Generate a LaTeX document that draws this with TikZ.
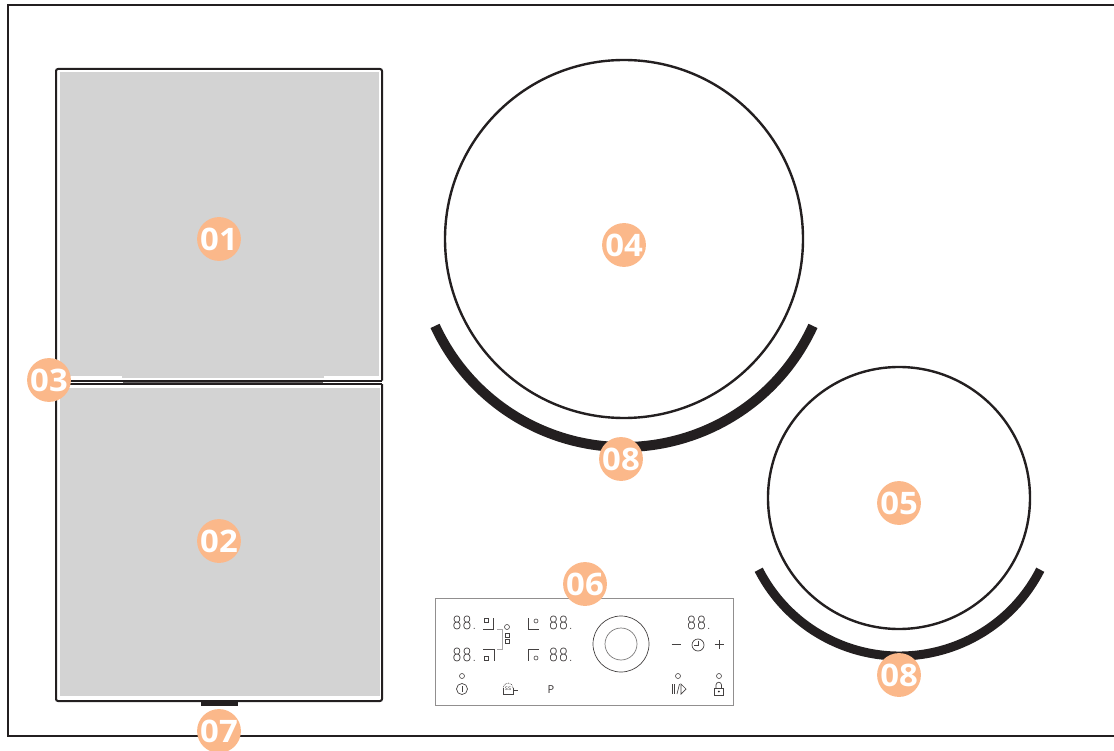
\documentclass[tikz,border=0pt]{standalone}
\usepackage{fontspec}
\setmainfont{Open Sans}
\newfontfamily\ledfont{DejaVu Sans ExtraLight}
\usepackage{tikz}
\definecolor{badgeorange}{HTML}{FBB88A}
\definecolor{zonegray}{HTML}{D3D3D3}
\definecolor{inkblack}{HTML}{231F20}
\newcommand{\ledtext}{\scalebox{.86}[1]{\ledfont 88.}}
\newcommand{\badgetext}[1]{\scalebox{1.06}[1]{\bfseries #1}}
\tikzset{
	badge/.style={circle, fill=badgeorange, text=white, minimum size=43pt, inner sep=0pt, font=\fontsize{31}{31}\selectfont},
	outline/.style={draw=inkblack, line width=2pt},
	heavyarc/.style={draw=inkblack, line width=10pt},
	readout/.style={inner sep=0pt, text=inkblack, font=\fontsize{18}{18}\selectfont},
	thinink/.style={draw=inkblack!85, line width=0.7pt},
	led/.style={draw=inkblack!85, line width=0.6pt, circle, minimum size=5pt, inner sep=0pt},
}

\begin{document}
\begin{tikzpicture}[x=1pt, y=-1pt]
	\useasboundingbox (0, 0) rectangle (1114, 751);
	\draw[outline] (1114, 5) -- (7.5, 5) -- (7.5, 736) -- (1114, 736);

	\fill[zonegray] (60, 72) rectangle (379, 378);
	\fill[zonegray] (60, 388) rectangle (380, 696);
	\draw[outline, rounded corners=2pt] (56, 381) -- (56, 69) -- (382, 69) -- (382, 380.5);
	\draw[outline, rounded corners=2pt] (56, 384) -- (56, 701) -- (382, 701) -- (382, 384);
	\fill[white] (70, 376) rectangle (122, 388);
	\fill[white] (324, 376) rectangle (379, 388);
	\fill[inkblack!70] (123, 381) rectangle (323, 384);
	\draw[outline, line width=1.6pt] (56, 380.7) -- (382, 380.7);
	\draw[outline, line width=1.6pt] (56, 384) -- (382, 384);
	\fill[inkblack] (201, 701) rectangle (238, 706);

	\draw[outline, line width=2.4pt] (624, 239) circle[radius=179];
	\draw[outline, line width=2.4pt] (899, 498) circle[radius=131];
	\draw[heavyarc] (624, 239) ++(24.7:208) arc[start angle=24.7, end angle=155.3, radius=208];
	\draw[heavyarc, line width=9pt] (899.5, 498) ++(27:158) arc[start angle=27, end angle=153, radius=158];

	\draw[draw=inkblack!50, line width=0.8pt] (435.5, 598.5) rectangle (733.5, 705.5);
	\draw[thinink] (621, 644) circle[radius=28];
	\draw[draw=inkblack!60, line width=0.7pt] (621, 644) circle[radius=16];

	\node[readout] (readoutA) at (464.5, 623) {\ledtext};
	\node[readout] (readoutB) at (464.5, 655) {\ledtext};
	\node[readout] (readoutC) at (561, 623) {\ledtext};
	\node[readout] (readoutD) at (561, 655) {\ledtext};
	\node[readout] (readoutE) at (699, 623) {\ledtext};

	\draw[thinink] (483, 629) -- (493, 629) -- (493, 618);
	\draw[thinink] (483, 649) -- (494, 649) -- (494, 661);
	\draw[thinink] (528, 618) -- (528, 629) -- (539, 629);
	\draw[thinink] (539, 649) -- (528, 649) -- (528, 661);
	\draw[thinink, line width=0.6pt] (484, 618.5) rectangle (488, 622.5);
	\draw[thinink, line width=0.6pt] (484, 656) rectangle (488, 660);
	\node[led, minimum size=4pt] (spotA) at (536, 621) {};
	\node[led, minimum size=4pt] (spotB) at (536, 658) {};
	\node[led] (ledBridge) at (507, 627) {};
	\draw[thinink, line width=0.6pt] (505, 633) rectangle (509, 637);
	\draw[thinink, line width=0.6pt] (505, 639) rectangle (509, 643);
	\draw[draw=inkblack!40, line width=0.6pt] (497, 629) -- (502, 629) -- (502, 649) -- (497, 649);

	\node[led] (ledPower) at (462, 676) {};
	\node[led, minimum size=11pt, line width=0.7pt] (power) at (462, 689) {};
	\draw[thinink] (462, 686) -- (462, 692);

	\draw[thinink, line width=0.6pt] (503, 688) -- (503, 694) -- (513, 694) -- (513, 688);
	\draw[thinink, line width=0.7pt, densely dotted] (513, 688) arc[start angle=0, end angle=-180, radius=5];
	\node[inner sep=0pt, text=inkblack!85, font=\fontsize{6.5}{6.5}\selectfont] (boost) at (508, 689) {ss};
	\draw[thinink, line width=0.6pt] (513, 690) -- (518, 690);

	\node[inner sep=0pt, text=inkblack!90, font=\fontsize{11}{11}\selectfont] (prog) at (551, 689.5) {P};

	\draw[thinink] (671.5, 644.5) -- (680.5, 644.5);
	\draw[thinink] (714.5, 644.5) -- (723.5, 644.5);
	\draw[thinink] (719, 640) -- (719, 649);
	\node[led, minimum size=12pt, line width=0.7pt] (clock) at (698, 645) {};
	\draw[thinink, line width=0.6pt] (698, 641) -- (698, 645) -- (694, 645);

	\node[led] (ledPause) at (678, 676) {};
	\node[led] (ledLock) at (719, 676) {};
	\draw[thinink] (672, 684) -- (672, 694);
	\draw[thinink] (674.5, 684) -- (674.5, 694);
	\draw[thinink] (677, 694) -- (679.5, 684);
	\draw[thinink] (681, 684) -- (686, 689) -- (681, 694) -- cycle;
	\draw[thinink] (714, 688.5) rectangle (723.5, 695.5);
	\draw[thinink] (716, 688.5) -- (716, 685) arc[start angle=180, end angle=360, radius=2.75] -- (721.5, 688.5);
	\fill[inkblack] (718.75, 691.5) circle[radius=1];

	\node[badge] (zoneA) at (219, 239) {\badgetext{01}};
	\node[badge] (zoneB) at (219, 541) {\badgetext{02}};
	\node[badge] (bridge) at (49, 380) {\badgetext{03}};
	\node[badge] (ringA) at (624, 245) {\badgetext{04}};
	\node[badge] (ringB) at (899, 503) {\badgetext{05}};
	\node[badge] (panel) at (585, 584) {\badgetext{06}};
	\node[badge] (vent) at (219, 731) {\badgetext{07}};
	\node[badge] (guideA) at (621, 459) {\badgetext{08}};
	\node[badge] (guideB) at (899, 675) {\badgetext{08}};
\end{tikzpicture}
\end{document}
